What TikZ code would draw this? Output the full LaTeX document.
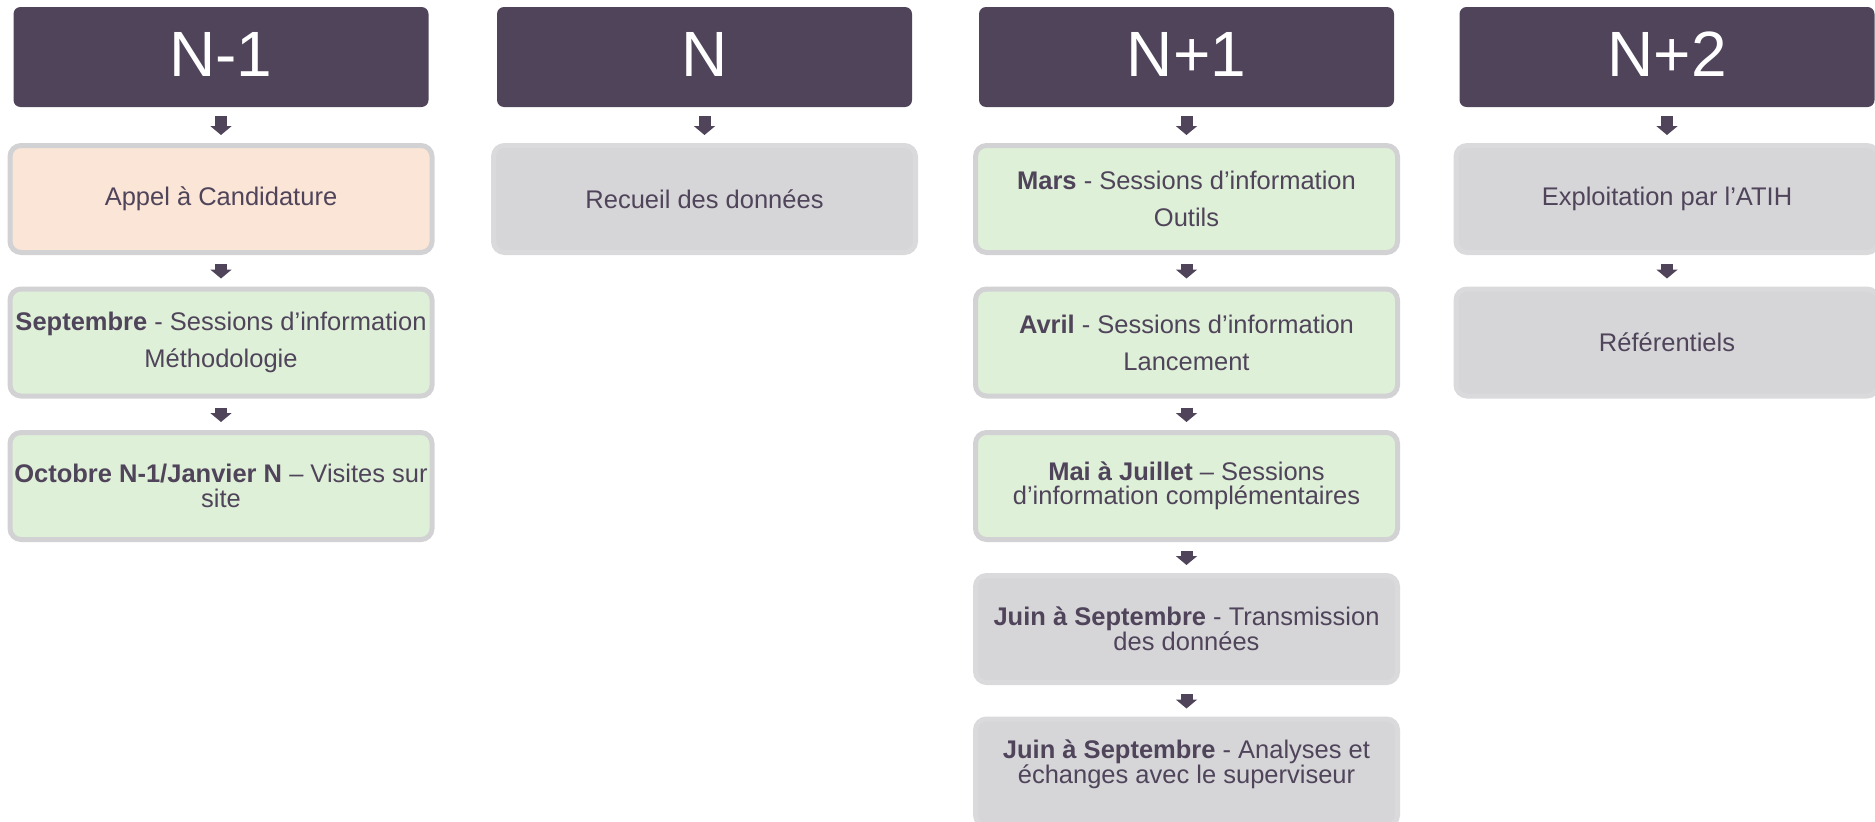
\documentclass[tikz,border=0pt]{standalone}
\usepackage{fontspec}
\setmainfont{Liberation Sans}
\usetikzlibrary{arrows.meta}
\definecolor{hdr}{HTML}{4F445A}
\definecolor{txt}{HTML}{4F445A}
\definecolor{orangef}{HTML}{FAE5D6}
\definecolor{greenf}{HTML}{DFF0D8}
\definecolor{grayf}{HTML}{D6D6D9}
\definecolor{bord}{HTML}{D2D2D5}
\begin{document}
\begin{tikzpicture}[x=1pt,y=-1pt,
  hdrbox/.style={fill=hdr, rounded corners=7pt, minimum width=415pt, minimum height=100pt, inner sep=0pt, text=white, font=\fontsize{64}{64}\selectfont, text height=46pt, text depth=8pt},
  stepbox/.style={rounded corners=11pt, line width=5pt, draw=bord, minimum width=422pt, minimum height=107pt, inner sep=0pt, align=center, text=txt},
  loose/.style={font=\fontsize{25.5}{37}\selectfont},
  tight/.style={font=\fontsize{25.5}{24.5}\selectfont},
  orbox/.style={stepbox, fill=orangef},
  grbox/.style={stepbox, fill=greenf},
  gybox/.style={stepbox, fill=grayf, draw=grayf!90!white},
  arr/.style={draw=hdr, line width=12pt, -{Triangle[width=21pt,length=9pt]}, shorten <=9pt, shorten >=8pt}
]
\useasboundingbox (0,0) rectangle (1875,822);
% column N-1
\node[hdrbox] (h1) at (221,57) {N-1};
\node[orbox, tight] (a1) at (221,199) {Appel à Candidature};
\node[grbox, loose] (a2) at (221,342.5) {\textbf{Septembre} - Sessions d’information\\Méthodologie};
\node[grbox, tight] (a3) at (221,486) {\textbf{Octobre N-1/Janvier N} -- Visites sur\\site};
\draw[arr] (h1) -- (a1);
\draw[arr] (a1) -- (a2);
\draw[arr] (a2) -- (a3);
% column N
\node[hdrbox] (h2) at (704.5,57) {N};
\node[gybox, tight] (b1) at (704.5,199) {Recueil des données};
\draw[arr] (h2) -- (b1);
% column N+1
\node[hdrbox] (h3) at (1186.5,57) {N+1};
\node[grbox, loose] (c1) at (1186.5,199) {\textbf{Mars} - Sessions d’information\\Outils};
\node[grbox, loose] (c2) at (1186.5,342.5) {\textbf{Avril} - Sessions d’information\\Lancement};
\node[grbox, tight] (c3) at (1186.5,486) {\textbf{Mai à Juillet} -- Sessions\\d’information complémentaires};
\node[gybox, tight] (c4) at (1186.5,629) {\textbf{Juin à Septembre} - Transmission\\des données};
\node[gybox, tight] (c5) at (1186.5,772.5) {\textbf{Juin à Septembre} - Analyses et\\échanges avec le superviseur\\[-3pt]\mbox{}};
\draw[arr] (h3) -- (c1);
\draw[arr] (c1) -- (c2);
\draw[arr] (c2) -- (c3);
\draw[arr] (c3) -- (c4);
\draw[arr] (c4) -- (c5);
% column N+2
\node[hdrbox] (h4) at (1667,57) {N+2};
\node[gybox, tight] (d1) at (1667,199) {Exploitation par l’ATIH};
\node[gybox, tight] (d2) at (1667,342.5) {Référentiels};
\draw[arr] (h4) -- (d1);
\draw[arr] (d1) -- (d2);
\end{tikzpicture}
\end{document}
